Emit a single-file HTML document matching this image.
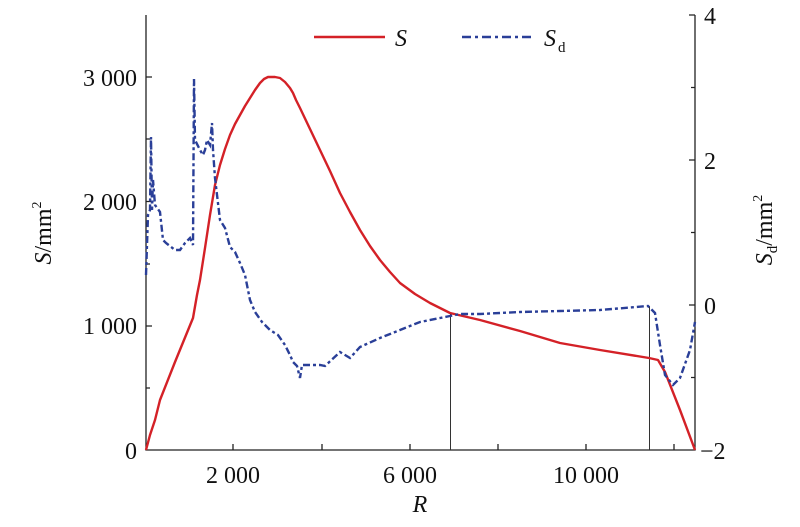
<!DOCTYPE html>
<html><head><meta charset="utf-8"><style>
html,body{margin:0;padding:0;background:#fff;}
svg{display:block;font-family:"Liberation Serif",serif;}
</style></head><body>
<svg width="800" height="527" viewBox="0 0 800 527" xmlns="http://www.w3.org/2000/svg">
<g stroke="#222" stroke-width="1.3" fill="none">
<path d="M146,15 V450 H695 V15"/>
<path d="M146,77 h6 M146,139 h4 M146,201.5 h6 M146,264 h4 M146,326 h6 M146,388 h4"/>
<path d="M695,15 h-6 M695,87.5 h-4 M695,160 h-6 M695,232.5 h-4 M695,305 h-6 M695,377.5 h-4"/>
<path d="M233,450 v-6 M322,450 v-6 M410,450 v-6 M498,450 v-6 M586,450 v-6 M674,450 v-6"/>
</g>
<g stroke="#333" stroke-width="1"><path d="M450.5,313 V450 M649.5,306 V450"/></g>
<g font-size="24" fill="#111">
<text x="137" y="86" text-anchor="end">3 000</text>
<text x="137" y="210" text-anchor="end">2 000</text>
<text x="137" y="334" text-anchor="end">1 000</text>
<text x="137" y="459" text-anchor="end">0</text>
<text x="704" y="24">4</text>
<text x="704" y="169">2</text>
<text x="704" y="314">0</text>
<text x="700" y="459">−2</text>
<text x="233" y="483" text-anchor="middle">2 000</text>
<text x="410" y="483" text-anchor="middle">6 000</text>
<text x="586" y="483" text-anchor="middle">10 000</text>
<text x="420" y="512" text-anchor="middle" font-style="italic">R</text>
<text transform="translate(51,233) rotate(-90)" text-anchor="middle"><tspan font-style="italic">S</tspan>/mm<tspan font-size="14" dy="-10">2</tspan></text>
<text transform="translate(772,230) rotate(-90)" text-anchor="middle"><tspan font-style="italic">S</tspan><tspan font-size="15" dy="5">d</tspan><tspan dy="-5">/mm</tspan><tspan font-size="14" dy="-10">2</tspan></text>
<text x="395" y="46" font-style="italic">S</text>
<text x="544" y="46" font-style="italic">S</text><text x="558" y="52" font-size="15">d</text>
</g>
<path d="M314,37 H385" stroke="#d42127" stroke-width="2.5"/>
<path d="M462,37 H533" stroke="#2a3f98" stroke-width="2.5" stroke-dasharray="9,4,3,4"/>
<path fill="none" stroke="#d42127" stroke-width="2.4" stroke-linejoin="round" d="M146,450 L150,435 L155,420 L160,400 L175,362 L193,318 L197,295 L200,280 L205,248 L210,215 L215,185 L220,165 L225,149 L230,135 L235,124 L240,115 L245,106 L250,98 L255,90 L260,83 L264,79 L268,77 L275,77 L280,78 L285,82 L290,88 L293,93 L296,100 L300,108 L310,129 L320,150 L330,171 L340,193 L350,212 L360,230 L370,246 L380,260 L390,272 L400,283 L415,294 L430,303 L450,313 L480,320 L520,331 L560,343 L600,350 L649,358 L658,360 L665,372 L680,410 L695,450"/>
<path fill="none" stroke="#2a3f98" stroke-width="2.4" stroke-dasharray="7,3,3,3" d="M146,275 L148,215 L150,210 L151,137 L152,210 L153,180 L155,205 L160,212 L163,240 L166,243 L175,250 L180,250 L185,243 L190,238 L193,245 L194,79 L195,140 L200,150 L203,155 L205,150 L207,140 L210,145 L212,123 L213,150 L215,178 L220,220 L225,228 L230,247 L235,252 L240,263 L245,275 L250,300 L255,312 L262,322 L270,330 L278,335 L285,345 L290,355 L293,362 L297,366 L300,378 L302,365 L320,365 L325,366 L340,352 L350,358 L360,347 L380,338 L400,330 L420,322 L440,318 L450,316 L460,314 L480,314 L520,312 L560,311 L600,310 L648,306 L655,313 L660,345 L665,375 L673,385 L680,378 L690,350 L695,322"/>
</svg>
</body></html>
